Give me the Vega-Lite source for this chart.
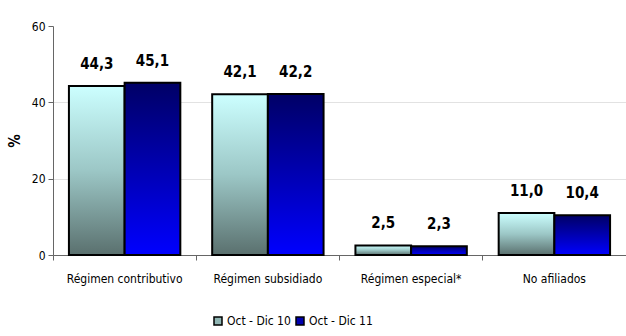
{
  "$schema": "https://vega.github.io/schema/vega-lite/v6.json",
  "width": 573,
  "height": 229,
  "autosize": {"type": "none"},
  "padding": {"left": 53, "top": 26, "right": 0, "bottom": 81},
  "background": "white",
  "config": {
    "view": {"stroke": null},
    "locale": {"number": {"decimal": ",", "thousands": ".", "grouping": [3], "currency": ["$", ""]}},
    "font": "DejaVu Sans Condensed, Liberation Sans"
  },
  "data": {
    "values": [
      {"cat": "Régimen contributivo", "period": "Oct - Dic 10", "value": 44.3},
      {"cat": "Régimen contributivo", "period": "Oct - Dic 11", "value": 45.1},
      {"cat": "Régimen subsidiado", "period": "Oct - Dic 10", "value": 42.1},
      {"cat": "Régimen subsidiado", "period": "Oct - Dic 11", "value": 42.2},
      {"cat": "Régimen especial*", "period": "Oct - Dic 10", "value": 2.5},
      {"cat": "Régimen especial*", "period": "Oct - Dic 11", "value": 2.3},
      {"cat": "No afiliados", "period": "Oct - Dic 10", "value": 11.0},
      {"cat": "No afiliados", "period": "Oct - Dic 11", "value": 10.4}
    ]
  },
  "encoding": {
    "x": {
      "field": "cat", "type": "nominal", "sort": null,
      "scale": {"paddingInner": 0, "paddingOuter": 0},
      "axis": {
        "title": null, "labelAngle": 0, "bandPosition": 0,
        "labelFontSize": 12, "labelColor": "#000", "labelPadding": 13,
        "tickSize": 5, "tickColor": "#666", "domainColor": "#666",
        "labelFont": "DejaVu Sans Condensed, Liberation Sans"
      }
    },
    "xOffset": {"field": "period", "type": "nominal", "sort": ["Oct - Dic 10", "Oct - Dic 11"], "scale": {"paddingInner": 0, "paddingOuter": 0.286}},
    "y": {
      "field": "value", "type": "quantitative",
      "scale": {"domain": [0, 60]},
      "axis": {
        "title": "%", "titleFontSize": 15, "titleFontWeight": "bold", "titleColor": "#000",
        "titlePadding": 9, "values": [0, 20, 40, 60],
        "labelFontSize": 12, "labelColor": "#000", "labelPadding": 3,
        "tickSize": 5, "tickColor": "#666", "domainColor": "#666",
        "gridColor": "#e2e2e2",
        "gridOpacity": {"condition": {"test": "datum.value == 60", "value": 0}, "value": 1}
      }
    }
  },
  "layer": [
    {
      "transform": [{"filter": "datum.period == 'Oct - Dic 10'"}],
      "mark": {"type": "bar", "stroke": "#000", "strokeWidth": 2,
        "fill": {"gradient": "linear", "x1": 0, "y1": 0, "x2": 0, "y2": 1,
          "stops": [{"offset": 0, "color": "#ccffff"}, {"offset": 0.5, "color": "#9cc7c6"}, {"offset": 1, "color": "#5a706e"}]}}
    },
    {
      "transform": [{"filter": "datum.period == 'Oct - Dic 11'"}],
      "mark": {"type": "bar", "stroke": "#000", "strokeWidth": 2,
        "fill": {"gradient": "linear", "x1": 0, "y1": 0, "x2": 0, "y2": 1,
          "stops": [{"offset": 0, "color": "#000066"}, {"offset": 1, "color": "#0000ff"}]}}
    },
    {
      "mark": {"type": "square", "opacity": 0},
      "encoding": {
        "color": {
          "field": "period", "type": "nominal",
          "scale": {"domain": ["Oct - Dic 10", "Oct - Dic 11"], "range": ["#8fb5b3", "#0000b0"]},
          "legend": {
            "title": null, "orient": "none", "legendX": 159, "legendY": 289,
            "direction": "horizontal", "symbolType": "square", "symbolSize": 64,
            "symbolOpacity": 1,
            "symbolStrokeColor": "#000", "symbolStrokeWidth": 1.5,
            "labelFontSize": 12, "labelColor": "#000", "labelOffset": 3, "columnPadding": 2,
            "labelFont": "DejaVu Sans Condensed, Liberation Sans"
          }
        }
      }
    },
    {
      "mark": {"type": "text", "dy": -14, "fontSize": 15, "fontWeight": "bold", "baseline": "bottom", "font": "DejaVu Sans Condensed, Liberation Sans"},
      "encoding": {
        "text": {"field": "value", "type": "quantitative", "format": ".1f"}
      }
    }
  ]
}
